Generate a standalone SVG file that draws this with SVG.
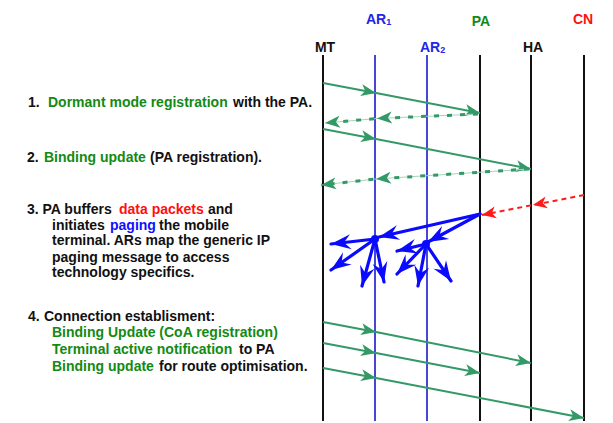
<svg xmlns="http://www.w3.org/2000/svg" width="613" height="423" viewBox="0 0 613 423">
  <style>
    text { font-family: "Liberation Sans", Arial, sans-serif; font-weight: bold; font-size: 14px; fill: #111; }
    .g { fill: #138a13; }
    .r { fill: #ff1010; }
    .b { fill: #1010ff; }
    .lab-blue { fill: #2424e6; }
    .life { stroke: #111; stroke-width: 2; }
    .life-ar { stroke: #4646d8; stroke-width: 2; }
    .msg { fill: none; stroke: #339966; stroke-width: 2; marker-mid: url(#headG); marker-end: url(#headG); }
    .ret-light { fill: none; stroke: #a9d3bd; stroke-width: 1.2; }
    .ret-dark { fill: none; stroke: #339966; stroke-width: 3; stroke-dasharray: 5 8; marker-mid: url(#headG); marker-end: url(#headG); }
    .data { fill: none; stroke: #ff1a1a; stroke-width: 2; stroke-dasharray: 5 4; marker-mid: url(#headR); marker-end: url(#headR); }
    .page { fill: none; stroke: #0a0aff; stroke-width: 3.2; stroke-linecap: round; marker-end: url(#headB); }
  </style>
  <defs>
    <marker id="headG" markerUnits="userSpaceOnUse" markerWidth="16" markerHeight="14" refX="15" refY="6" orient="auto" overflow="visible">
      <path d="M15,6 L0,0 L4,6 L0,12 Z" fill="#339966"/>
    </marker>
    <marker id="headR" markerUnits="userSpaceOnUse" markerWidth="16" markerHeight="14" refX="14" refY="6" orient="auto" overflow="visible">
      <path d="M14,6 L0,0 L4,6 L0,12 Z" fill="#ff1a1a"/>
    </marker>
    <marker id="headB" markerUnits="userSpaceOnUse" markerWidth="22" markerHeight="16" refX="20" refY="7.5" orient="auto" overflow="visible">
      <path d="M20,7.5 L0,0 L7,7.5 L0,15 Z" fill="#0a0aff"/>
    </marker>
  </defs>

  <!-- lifelines -->
  <g id="MT">
    <text x="325" y="52" text-anchor="middle">MT</text>
    <line class="life" x1="323" y1="55" x2="323" y2="421"/>
  </g>
  <g id="AR1">
    <text x="366" y="24" class="lab-blue">AR<tspan font-size="9" dy="1">1</tspan></text>
    <line class="life-ar" x1="375" y1="55" x2="375" y2="421"/>
  </g>
  <g id="AR2">
    <text x="420" y="52" class="lab-blue">AR<tspan font-size="9" dy="1">2</tspan></text>
    <line class="life-ar" x1="427" y1="55" x2="427" y2="421"/>
  </g>
  <g id="PA">
    <text x="481" y="26" text-anchor="middle" class="g">PA</text>
    <line class="life" x1="480" y1="55" x2="480" y2="421"/>
  </g>
  <g id="HA">
    <text x="533" y="52" text-anchor="middle">HA</text>
    <line class="life" x1="531" y1="55" x2="531" y2="421"/>
  </g>
  <g id="CN">
    <text x="583" y="24" text-anchor="middle" class="r">CN</text>
    <line class="life" x1="584" y1="55" x2="584" y2="421"/>
  </g>

  <!-- messages -->
  <g id="connectors">
    <!-- 1. dormant mode registration and reply -->
    <path class="msg" d="M323,83 L376,93 L480,113"/>
    <path class="ret-light" d="M478,114 L377,118.5 L325,123"/>
    <path class="ret-dark" d="M478,114 L377,118.5 L325,123"/>
    <!-- 2. binding update and reply -->
    <path class="msg" d="M323,129 L376,139 L531,169"/>
    <path class="ret-light" d="M529,169 L376,179 L321,185"/>
    <path class="ret-dark" d="M529,169 L376,179 L321,185"/>
    <!-- 3. data packets to PA, paging -->
    <path class="data" d="M584,195 L533,205 L482,215"/>
    <path class="page" d="M480,214 L379,237"/>
    <path class="page" d="M480,214 L428,242"/>
    <circle cx="375" cy="239" r="4" fill="#0a0aff"/>
    <circle cx="426" cy="244" r="4" fill="#0a0aff"/>
    <path class="page" d="M375,239 L331,244"/>
    <path class="page" d="M375,239 L331,270"/>
    <path class="page" d="M375,239 L362,286"/>
    <path class="page" d="M375,239 L384,282"/>
    <path class="page" d="M426,244 L397,251"/>
    <path class="page" d="M426,244 L397,274"/>
    <path class="page" d="M426,244 L418,286"/>
    <path class="page" d="M426,244 L451,281"/>
    <!-- 4. connection establishment -->
    <path class="msg" d="M323,322 L376,332 L531,363"/>
    <path class="msg" d="M323,343 L376,353 L480,373"/>
    <path class="msg" d="M323,368 L376,378 L584,418"/>
  </g>

  <!-- step descriptions -->
  <g id="notes">
    <text y="107"><tspan x="28">1.</tspan><tspan x="48" class="g">Dormant mode registration</tspan><tspan x="233">with the PA.</tspan></text>
    <text y="162"><tspan x="27">2.</tspan><tspan x="44" class="g">Binding update</tspan><tspan x="150">(PA registration).</tspan></text>
    <text y="214"><tspan x="27">3. PA buffers</tspan><tspan x="119" class="r">data packets</tspan><tspan x="208">and</tspan></text>
    <text y="230"><tspan x="52">initiates </tspan><tspan x="110" class="b">paging</tspan><tspan x="159">the mobile</tspan></text>
    <text x="52" y="245">terminal. ARs map the generic IP</text>
    <text x="52" y="262">paging message to access</text>
    <text x="52" y="277">technology specifics.</text>
    <text x="28" y="321">4.<tspan x="44">Connection establisment:</tspan></text>
    <text x="52" y="337" class="g">Binding Update (CoA registration)</text>
    <text y="354"><tspan x="52" class="g">Terminal active notification</tspan><tspan x="239">to PA</tspan></text>
    <text y="371"><tspan x="52" class="g">Binding update</tspan><tspan x="159">for route optimisation.</tspan></text>
  </g>
</svg>
